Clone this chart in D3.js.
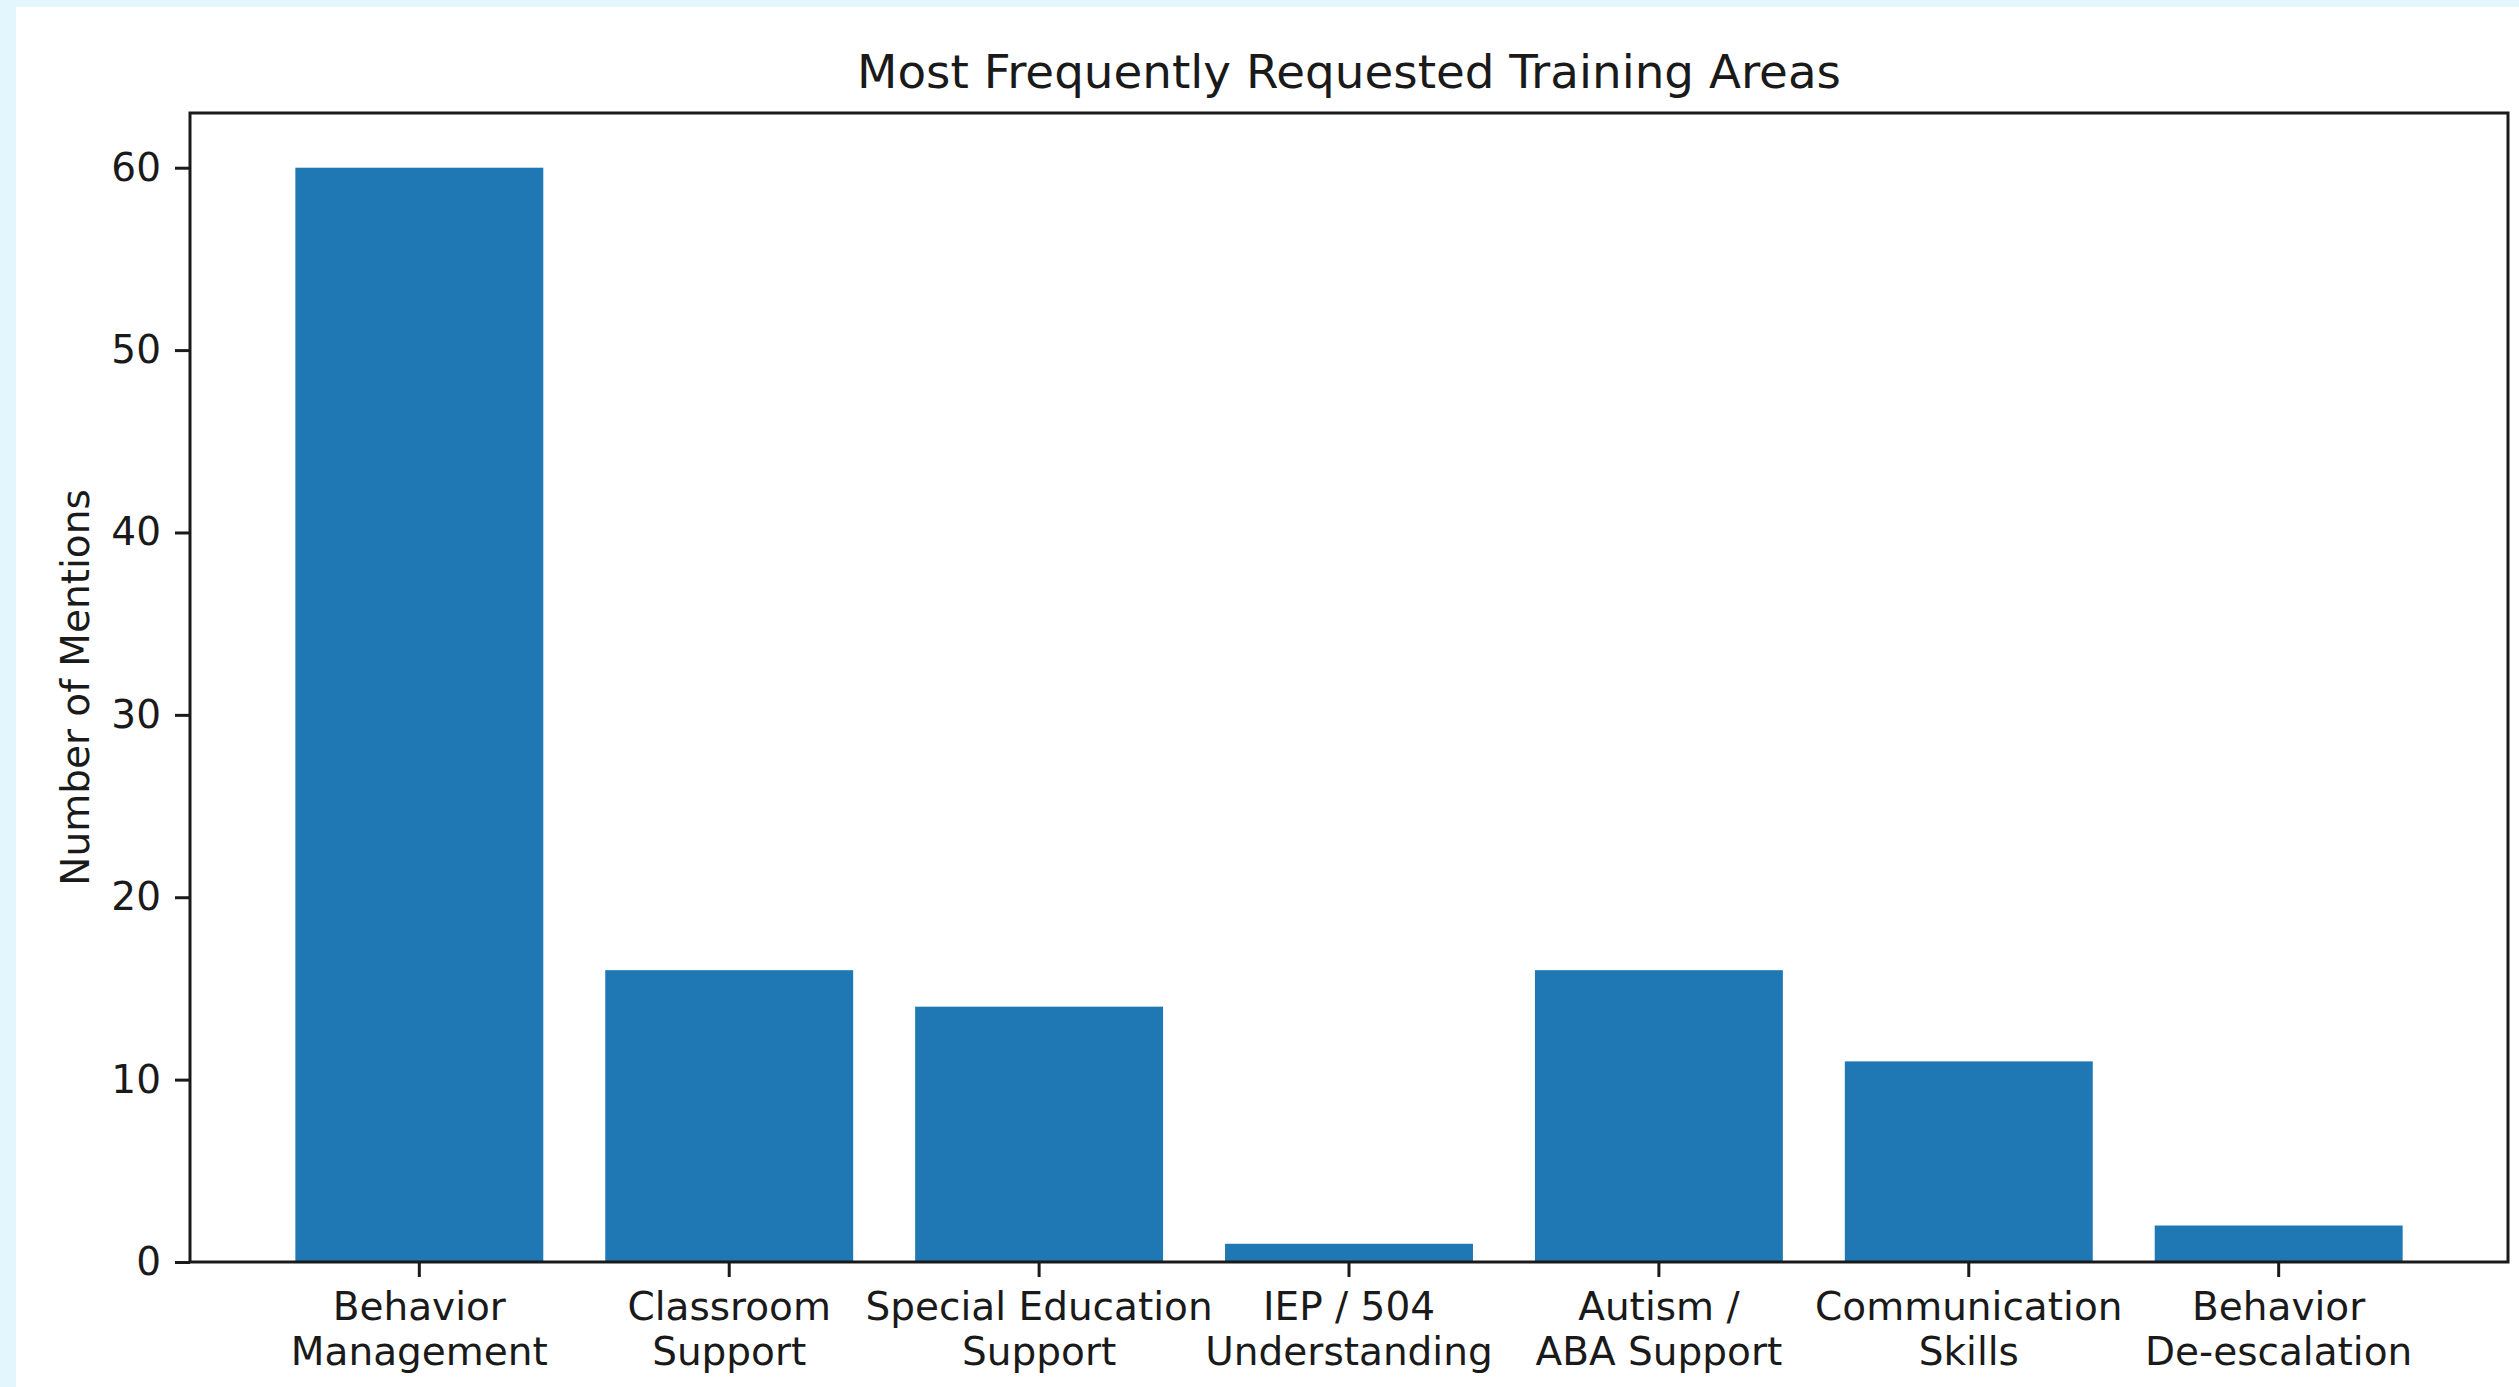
<!DOCTYPE html>
<html>
<head>
<meta charset="utf-8">
<script src="https://cdn.jsdelivr.net/npm/d3@7"></script>
<style>
    html, body { margin: 0; padding: 0; background: #e3f6fd; }
    svg { display: block; }
    text { font-family: "DejaVu Sans", sans-serif; fill: #1a1a1a; }
</style>
</head>
<body>
<div id="chart"></div>
<script>
'use strict';

// Data
const categories = [
    'Behavior\nManagement',
    'Classroom\nSupport',
    'Special Education\nSupport',
    'IEP / 504\nUnderstanding',
    'Autism /\nABA Support',
    'Communication\nSkills',
    'Behavior\nDe-escalation'
];
const mentions = [60, 16, 14, 1, 16, 11, 2];
const yTicks = [0, 10, 20, 30, 40, 50, 60];
const title = 'Most Frequently Requested Training Areas';
const yLabel = 'Number of Mentions';

// Config
const w = 2519;
const h = 1387;
const margin = {top: 113, right: 11, bottom: 125, left: 190};
const innerW = w - margin.left - margin.right;
const innerH = h - margin.top - margin.bottom;
const tickFont = 39;

const svg = d3.select('#chart')
    .append('svg')
    .attr('width', w)
    .attr('height', h);

// White figure panel
svg.append('rect')
    .attr('x', 16)
    .attr('y', 7)
    .attr('width', w - 16)
    .attr('height', h - 7)
    .attr('fill', '#ffffff');

const g = svg.append('g')
    .attr('transform', `translate(${margin.left},${margin.top})`);

// Scales
const x = d3.scaleBand()
    .domain(categories)
    .range([0, innerW])
    .paddingInner(0.2)
    .paddingOuter(0.34);

const y = d3.scaleLinear()
    .domain([0, d3.max(mentions) * 1.05])
    .range([innerH, 0]);

// Bars
g.selectAll('.bar')
    .data(categories)
    .join('rect')
    .attr('class', 'bar')
    .attr('x', d => x(d))
    .attr('y', (d, i) => y(mentions[i]))
    .attr('width', x.bandwidth())
    .attr('height', (d, i) => innerH - y(mentions[i]))
    .attr('fill', '#1f77b4');

// Y axis
const yAxis = g.append('g')
    .call(d3.axisLeft(y).tickValues(yTicks).tickSize(15).tickPadding(14));
yAxis.select('.domain').remove();
yAxis.selectAll('.tick line').attr('stroke', '#1a1a1a').attr('stroke-width', 3);
yAxis.selectAll('.tick text')
    .attr('font-size', tickFont)
    .style('font-family', '"DejaVu Sans", sans-serif')
    .attr('fill', '#1a1a1a');

// X axis
const xAxis = g.append('g')
    .attr('transform', `translate(0,${innerH})`)
    .call(d3.axisBottom(x).tickSize(15).tickSizeOuter(0).tickPadding(0));
xAxis.select('.domain').remove();
xAxis.selectAll('.tick line').attr('stroke', '#1a1a1a').attr('stroke-width', 3);
xAxis.selectAll('.tick text').each(function (d) {
    const t = d3.select(this)
        .text(null)
        .attr('y', 0)
        .attr('dy', null)
        .attr('font-size', tickFont)
        .style('font-family', '"DejaVu Sans", sans-serif')
        .attr('fill', '#1a1a1a');
    d.split('\n').forEach((line, i) => {
        t.append('tspan')
            .attr('x', 0)
            .attr('y', 58 + i * 45)
            .text(line);
    });
});

// Spines
g.append('rect')
    .attr('x', 0)
    .attr('y', 0)
    .attr('width', innerW)
    .attr('height', innerH)
    .attr('fill', 'none')
    .attr('stroke', '#1a1a1a')
    .attr('stroke-width', 3);

// Title
svg.append('text')
    .attr('x', margin.left + innerW / 2)
    .attr('y', 88)
    .attr('text-anchor', 'middle')
    .attr('font-size', 46.8)
    .text(title);

// Y label
svg.append('text')
    .attr('transform', `translate(89,${margin.top + innerH / 2}) rotate(-90)`)
    .attr('text-anchor', 'middle')
    .attr('font-size', tickFont)
    .text(yLabel);
</script>
</body>
</html>
